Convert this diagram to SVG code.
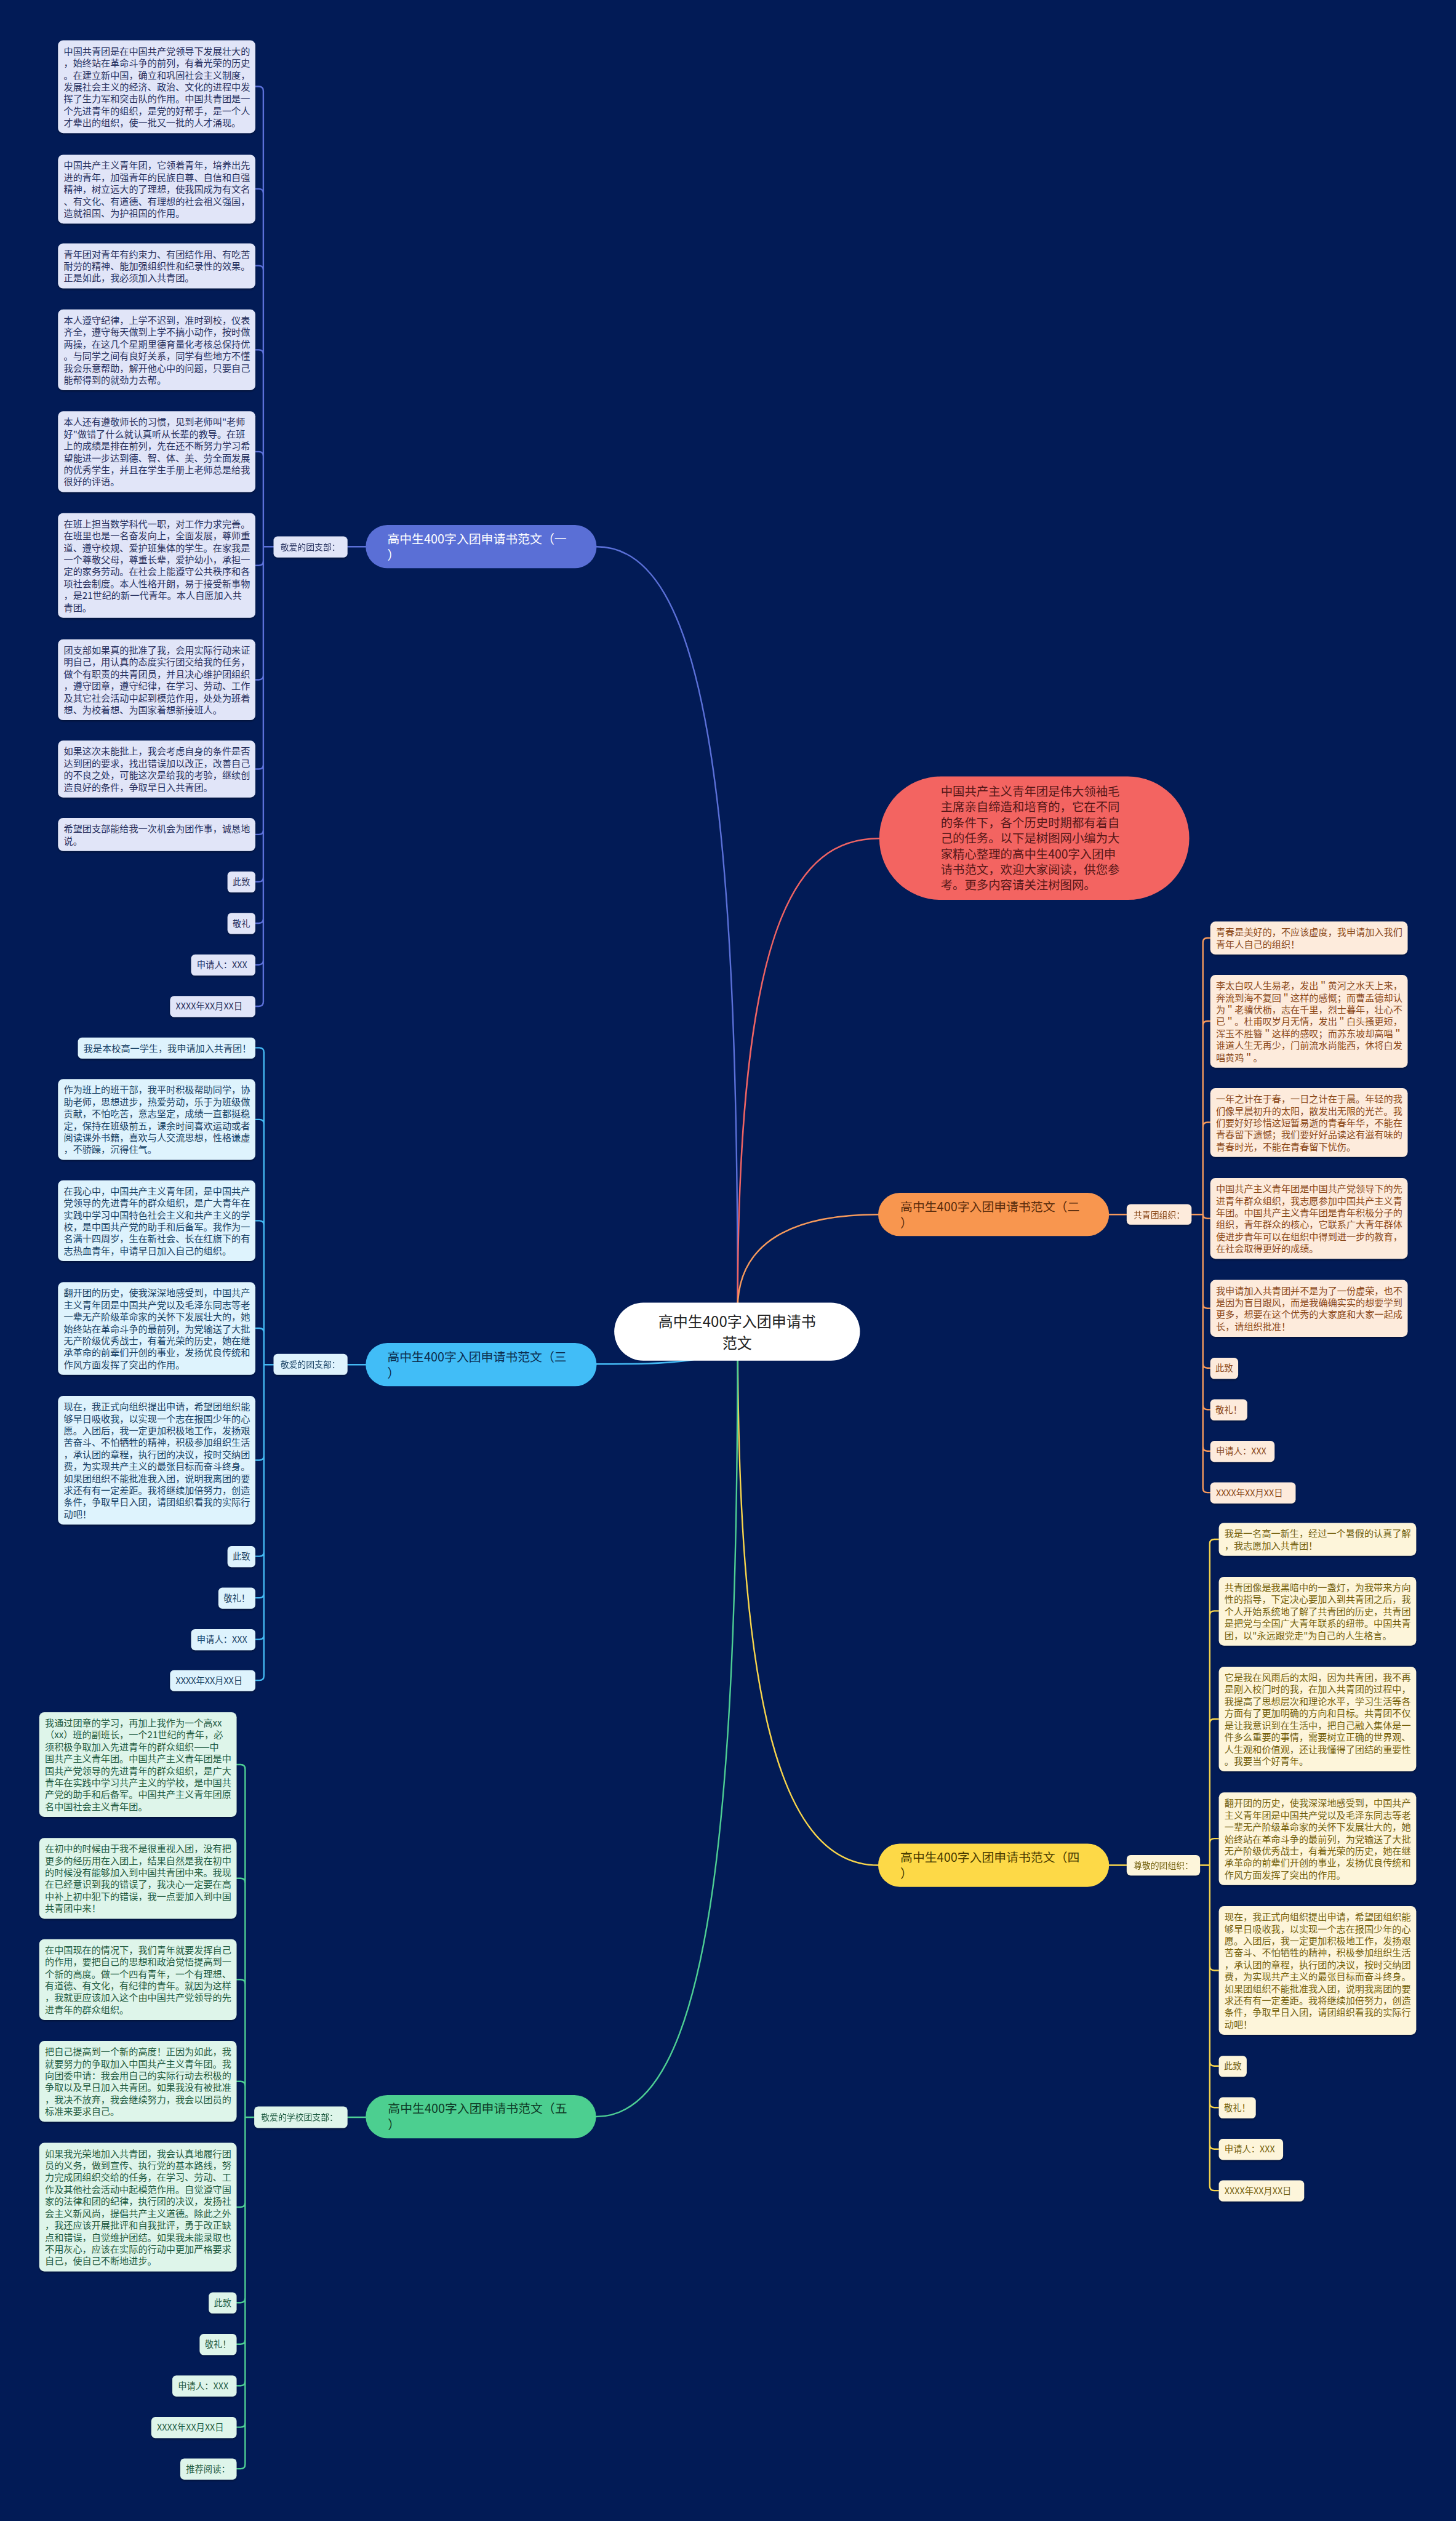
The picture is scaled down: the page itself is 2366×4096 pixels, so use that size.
<svg xmlns="http://www.w3.org/2000/svg" width="2366" height="4096" viewBox="0 0 2366 4096">
<defs>
<filter id="sh" x="-10%" y="-10%" width="120%" height="130%"><feDropShadow dx="0" dy="2" stdDeviation="1.5" flood-color="#000" flood-opacity="0.35"/></filter>
<style>
text{font-family:"Noto Sans CJK SC","Noto Sans",sans-serif}
.bx{filter:url(#sh)}
.t{font-size:16.4px}
.s{font-size:15.5px}
.lb{font-size:15px}
.nd{font-size:21.5px}
.c1 rect{fill:#e1e5f8}.c1 text{fill:#27305e}
.c2 rect{fill:#fdebdc}.c2 text{fill:#8a4718}
.c3 rect{fill:#def3fd}.c3 text{fill:#174063}
.c4 rect{fill:#fdf5da}.c4 text{fill:#73600c}
.c5 rect{fill:#def5ea}.c5 text{fill:#1f5a40}
.ln{fill:none;stroke-width:2.6;stroke-linecap:round}
</style>
</defs>
<rect width="2366" height="4096" fill="#021b56"/>
<g transform="scale(0.92422)">
<g id="connectors">
<path class="ln" stroke="#5b70d8" d="M1049,961 C1240,961 1297,1400 1297,2300"/>
<path class="ln" stroke="#f06464" d="M1297,2300 C1297,1620 1400,1474 1546,1474"/>
<path class="ln" stroke="#f79a5c" d="M1297,2300 C1297,2180 1400,2135 1544,2135"/>
<path class="ln" stroke="#44b9f3" d="M1297,2341 C1297,2398 1160,2398 1049,2398"/>
<path class="ln" stroke="#f9d64c" d="M1297,2341 C1297,2950 1360,3279 1544,3279"/>
<path class="ln" stroke="#4ecf94" d="M1297,2341 C1297,3200 1250,3721 1048,3721"/>
<path class="ln" stroke="#5b70d8" d="M643,961 H611 M481,961 H463 M463,160 V1761 M463,160 Q463,152 455,152 H449 M463,340 Q463,332 455,332 H449 M463,475 Q463,467 455,467 H449 M463,623 Q463,615 455,615 H449 M463,802 Q463,794 455,794 H449 M463,986 Q463,994 455,994 H449 M463,1187 Q463,1195 455,1195 H449 M463,1344 Q463,1352 455,1352 H449 M463,1459 Q463,1467 455,1467 H449 M463,1542 Q463,1550 455,1550 H449 M463,1615 Q463,1623 455,1623 H449 M463,1688 Q463,1696 455,1696 H449 M463,1761 Q463,1769 455,1769 H449"/>
<path class="ln" stroke="#f79a5c" d="M1950,2135 H1981 M2095,2135 H2115 M2115,1657 V2616 M2115,1657 Q2115,1649 2123,1649 H2128 M2115,1803 Q2115,1795 2123,1795 H2128 M2115,1981 Q2115,1973 2123,1973 H2128 M2115,2134 Q2115,2142 2123,2142 H2128 M2115,2292 Q2115,2300 2123,2300 H2128 M2115,2397 Q2115,2405 2123,2405 H2128 M2115,2470 Q2115,2478 2123,2478 H2128 M2115,2543 Q2115,2551 2123,2551 H2128 M2115,2616 Q2115,2624 2123,2624 H2128"/>
<path class="ln" stroke="#44b9f3" d="M643,2399 H611 M481,2399 H464 M464,1850 V2946 M464,1850 Q464,1842 456,1842 H449 M464,1976 Q464,1968 456,1968 H449 M464,2154 Q464,2146 456,2146 H449 M464,2343 Q464,2335 456,2335 H449 M464,2559 Q464,2567 456,2567 H449 M464,2728 Q464,2736 456,2736 H449 M464,2801 Q464,2809 456,2809 H449 M464,2874 Q464,2882 456,2882 H449 M464,2946 Q464,2954 456,2954 H449"/>
<path class="ln" stroke="#f9d64c" d="M1950,3279 H1981 M2110,3279 H2127 M2127,2714 V3843 M2127,2714 Q2127,2706 2135,2706 H2143 M2127,2840 Q2127,2832 2135,2832 H2143 M2127,3030 Q2127,3022 2135,3022 H2143 M2127,3240 Q2127,3232 2135,3232 H2143 M2127,3456 Q2127,3464 2135,3464 H2143 M2127,3624 Q2127,3632 2135,3632 H2143 M2127,3697 Q2127,3705 2135,3705 H2143 M2127,3770 Q2127,3778 2135,3778 H2143 M2127,3843 Q2127,3851 2135,3851 H2143"/>
<path class="ln" stroke="#4ecf94" d="M643,3722 H611 M447,3722 H431 M431,3110 V4332 M431,3110 Q431,3102 423,3102 H416 M431,3310 Q431,3302 423,3302 H416 M431,3488 Q431,3480 423,3480 H416 M431,3667 Q431,3659 423,3659 H416 M431,3872 Q431,3880 423,3880 H416 M431,4040 Q431,4048 423,4048 H416 M431,4113 Q431,4121 423,4121 H416 M431,4186 Q431,4194 423,4194 H416 M431,4259 Q431,4267 423,4267 H416 M431,4332 Q431,4340 423,4340 H416"/>
</g>

<g id="center">
<rect x="1080" y="2290" width="432" height="102" rx="51" fill="#ffffff"/>
<text x="1296" y="2333" font-size="26" fill="#222" text-anchor="middle">高中生400字入团申请书</text>
<text x="1296" y="2371" font-size="26" fill="#222" text-anchor="middle">范文</text>
</g>

<g id="intro">
<rect x="1546" y="1365" width="545" height="217" rx="108" fill="#f36461"/>
<text font-size="21" fill="#561818">
<tspan x="1654" y="1399">中国共产主义青年团是伟大领袖毛</tspan>
<tspan x="1654" y="1426.5">主席亲自缔造和培育的，它在不同</tspan>
<tspan x="1654" y="1454">的条件下，各个历史时期都有着自</tspan>
<tspan x="1654" y="1481.5">己的任务。以下是树图网小编为大</tspan>
<tspan x="1654" y="1509">家精心整理的高中生400字入团申</tspan>
<tspan x="1654" y="1536.5">请书范文，欢迎大家阅读，供您参</tspan>
<tspan x="1654" y="1564">考。更多内容请关注树图网。</tspan>
</text>
</g>

<g id="branch1">
<rect x="643" y="923" width="406" height="76" rx="38" fill="#5a6fd6"/>
<text class="nd" fill="#ffffff"><tspan x="681" y="955">高中生400字入团申请书范文（一</tspan><tspan x="681" y="983">）</tspan></text>
</g>
<g id="b1-label" class="c1 bx"><rect x="481" y="943" width="130" height="37" rx="7"/><text class="lb" x="493" y="967">敬爱的团支部：</text></g>
<g id="b1-1" class="c1"><rect class="bx" x="102" y="71" width="347" height="163" rx="9"/><text class="t">
<tspan x="112" y="96">中国共青团是在中国共产党领导下发展壮大的</tspan>
<tspan x="112" y="117">，始终站在革命斗争的前列，有着光荣的历史</tspan>
<tspan x="112" y="138">。在建立新中国，确立和巩固社会主义制度，</tspan>
<tspan x="112" y="159">发展社会主义的经济、政治、文化的进程中发</tspan>
<tspan x="112" y="180">挥了生力军和突击队的作用。中国共青团是一</tspan>
<tspan x="112" y="201">个先进青年的组织，是党的好帮手，是一个人</tspan>
<tspan x="112" y="222">才辈出的组织，使一批又一批的人才涌现。</tspan></text></g>
<g id="b1-2" class="c1"><rect class="bx" x="102" y="272" width="347" height="121" rx="9"/><text class="t">
<tspan x="112" y="297">中国共产主义青年团，它领着青年，培养出先</tspan>
<tspan x="112" y="318">进的青年，加强青年的民族自尊、自信和自强</tspan>
<tspan x="112" y="339">精神，树立远大的了理想，使我国成为有文名</tspan>
<tspan x="112" y="360">、有文化、有道德、有理想的社会祖义强国，</tspan>
<tspan x="112" y="381">造就祖国、为护祖国的作用。</tspan></text></g>
<g id="b1-3" class="c1"><rect class="bx" x="102" y="428" width="347" height="79" rx="9"/><text class="t">
<tspan x="112" y="453">青年团对青年有约束力、有团结作用、有吃苦</tspan>
<tspan x="112" y="474">耐劳的精神、能加强组织性和纪录性的效果。</tspan>
<tspan x="112" y="495">正是如此，我必须加入共青团。</tspan></text></g>
<g id="b1-4" class="c1"><rect class="bx" x="102" y="544" width="347" height="142" rx="9"/><text class="t">
<tspan x="112" y="569">本人遵守纪律，上学不迟到，准时到校，仪表</tspan>
<tspan x="112" y="590">齐全，遵守每天做到上学不搞小动作，按时做</tspan>
<tspan x="112" y="611">两操，在这几个星期里德育量化考核总保持优</tspan>
<tspan x="112" y="632">。与同学之间有良好关系，同学有些地方不懂</tspan>
<tspan x="112" y="653">我会乐意帮助，解开他心中的问题，只要自己</tspan>
<tspan x="112" y="674">能帮得到的就劲力去帮。</tspan></text></g>
<g id="b1-5" class="c1"><rect class="bx" x="102" y="723" width="347" height="142" rx="9"/><text class="t">
<tspan x="112" y="748">本人还有遵敬师长的习惯，见到老师叫"老师</tspan>
<tspan x="112" y="769">好"做错了什么就认真听从长辈的教导。在班</tspan>
<tspan x="112" y="790">上的成绩是排在前列，先在还不断努力学习希</tspan>
<tspan x="112" y="811">望能进一步达到德、智、体、美、劳全面发展</tspan>
<tspan x="112" y="832">的优秀学生，并且在学生手册上老师总是给我</tspan>
<tspan x="112" y="853">很好的评语。</tspan></text></g>
<g id="b1-6" class="c1"><rect class="bx" x="102" y="902" width="347" height="184" rx="9"/><text class="t">
<tspan x="112" y="927">在班上担当数学科代一职，对工作力求完善。</tspan>
<tspan x="112" y="948">在班里也是一名奋发向上，全面发展，尊师重</tspan>
<tspan x="112" y="969">道、遵守校规、爱护班集体的学生。在家我是</tspan>
<tspan x="112" y="990">一个尊敬父母，尊重长辈，爱护幼小，承担一</tspan>
<tspan x="112" y="1011">定的家务劳动。在社会上能遵守公共秩序和各</tspan>
<tspan x="112" y="1032">项社会制度。本人性格开朗，易于接受新事物</tspan>
<tspan x="112" y="1053">，是21世纪的新一代青年。本人自愿加入共</tspan>
<tspan x="112" y="1074">青团。</tspan></text></g>
<g id="b1-7" class="c1"><rect class="bx" x="102" y="1124" width="347" height="142" rx="9"/><text class="t">
<tspan x="112" y="1149">团支部如果真的批准了我，会用实际行动来证</tspan>
<tspan x="112" y="1170">明自己，用认真的态度实行团交给我的任务，</tspan>
<tspan x="112" y="1191">做个有职责的共青团员，并且决心维护团组织</tspan>
<tspan x="112" y="1212">，遵守团章，遵守纪律，在学习、劳动、工作</tspan>
<tspan x="112" y="1233">及其它社会活动中起到模范作用，处处为班着</tspan>
<tspan x="112" y="1254">想、为校着想、为国家着想新接班人。</tspan></text></g>
<g id="b1-8" class="c1"><rect class="bx" x="102" y="1302" width="347" height="100" rx="9"/><text class="t">
<tspan x="112" y="1327">如果这次未能批上，我会考虑自身的条件是否</tspan>
<tspan x="112" y="1348">达到团的要求，找出错误加以改正，改善自己</tspan>
<tspan x="112" y="1369">的不良之处，可能这次是给我的考验，继续创</tspan>
<tspan x="112" y="1390">造良好的条件，争取早日入共青团。</tspan></text></g>
<g id="b1-9" class="c1"><rect class="bx" x="102" y="1438" width="347" height="58" rx="9"/><text class="t">
<tspan x="112" y="1463">希望团支部能给我一次机会为团作事，诚恳地</tspan>
<tspan x="112" y="1484">说。</tspan></text></g>
<g id="b1-10" class="c1"><rect class="bx" x="400" y="1532" width="49" height="37" rx="7"/><text class="s" x="409" y="1556">此致</text></g>
<g id="b1-11" class="c1"><rect class="bx" x="400" y="1605" width="49" height="37" rx="7"/><text class="s" x="409" y="1629">敬礼</text></g>
<g id="b1-12" class="c1"><rect class="bx" x="336" y="1678" width="113" height="37" rx="7"/><text class="s" x="346" y="1702">申请人：XXX</text></g>
<g id="b1-13" class="c1"><rect class="bx" x="299" y="1751" width="150" height="37" rx="7"/><text class="s" x="309" y="1775">XXXX年XX月XX日</text></g>

<g id="branch2">
<rect x="1544" y="2097" width="406" height="76" rx="38" fill="#f8964f"/>
<text class="nd" fill="#5a2c0c"><tspan x="1583" y="2129">高中生400字入团申请书范文（二</tspan><tspan x="1583" y="2157">）</tspan></text>
</g>
<g id="b2-label" class="c2 bx"><rect x="1981" y="2117" width="114" height="36" rx="7"/><text class="lb" x="1993" y="2141">共青团组织：</text></g>
<g id="b2-1" class="c2"><rect class="bx" x="2128" y="1620" width="347" height="58" rx="9"/><text class="t">
<tspan x="2138" y="1645">青春是美好的，不应该虚度，我申请加入我们</tspan>
<tspan x="2138" y="1666">青年人自己的组织！</tspan></text></g>
<g id="b2-2" class="c2"><rect class="bx" x="2128" y="1714" width="347" height="163" rx="9"/><text class="t">
<tspan x="2138" y="1739">李太白叹人生易老，发出＂黄河之水天上来，</tspan>
<tspan x="2138" y="1760">奔流到海不复回＂这样的感慨；而曹孟德却认</tspan>
<tspan x="2138" y="1781">为＂老骥伏枥，志在千里，烈士暮年，壮心不</tspan>
<tspan x="2138" y="1802">已＂。杜甫叹岁月无情，发出＂白头搔更短，</tspan>
<tspan x="2138" y="1823">浑玉不胜簪＂这样的感叹；而苏东坡却高唱＂</tspan>
<tspan x="2138" y="1844">谁道人生无再少，门前流水尚能西，休将白发</tspan>
<tspan x="2138" y="1865">唱黄鸡＂。</tspan></text></g>
<g id="b2-3" class="c2"><rect class="bx" x="2128" y="1913" width="347" height="121" rx="9"/><text class="t">
<tspan x="2138" y="1938">一年之计在于春，一日之计在于晨。年轻的我</tspan>
<tspan x="2138" y="1959">们像早晨初升的太阳，散发出无限的光芒。我</tspan>
<tspan x="2138" y="1980">们要好好珍惜这短暂易逝的青春年华，不能在</tspan>
<tspan x="2138" y="2001">青春留下遗憾；我们要好好品读这有滋有味的</tspan>
<tspan x="2138" y="2022">青春时光，不能在青春留下忧伤。</tspan></text></g>
<g id="b2-4" class="c2"><rect class="bx" x="2128" y="2071" width="347" height="142" rx="9"/><text class="t">
<tspan x="2138" y="2096">中国共产主义青年团是中国共产党领导下的先</tspan>
<tspan x="2138" y="2117">进青年群众组织，我志愿参加中国共产主义青</tspan>
<tspan x="2138" y="2138">年团。中国共产主义青年团是青年积极分子的</tspan>
<tspan x="2138" y="2159">组织，青年群众的核心，它联系广大青年群体</tspan>
<tspan x="2138" y="2180">使进步青年可以在组织中得到进一步的教育，</tspan>
<tspan x="2138" y="2201">在社会取得更好的成绩。</tspan></text></g>
<g id="b2-5" class="c2"><rect class="bx" x="2128" y="2250" width="347" height="100" rx="9"/><text class="t">
<tspan x="2138" y="2275">我申请加入共青团并不是为了一份虚荣，也不</tspan>
<tspan x="2138" y="2296">是因为盲目跟风，而是我确确实实的想要学到</tspan>
<tspan x="2138" y="2317">更多，想要在这个优秀的大家庭和大家一起成</tspan>
<tspan x="2138" y="2338">长，请组织批准！</tspan></text></g>
<g id="b2-6" class="c2"><rect class="bx" x="2128" y="2387" width="49" height="37" rx="7"/><text class="s" x="2137" y="2411">此致</text></g>
<g id="b2-7" class="c2"><rect class="bx" x="2128" y="2460" width="65" height="37" rx="7"/><text class="s" x="2137" y="2484">敬礼！</text></g>
<g id="b2-8" class="c2"><rect class="bx" x="2128" y="2533" width="113" height="37" rx="7"/><text class="s" x="2138" y="2557">申请人：XXX</text></g>
<g id="b2-9" class="c2"><rect class="bx" x="2128" y="2606" width="150" height="37" rx="7"/><text class="s" x="2138" y="2630">XXXX年XX月XX日</text></g>

<g id="branch3">
<rect x="643" y="2361" width="406" height="76" rx="38" fill="#41bdf7"/>
<text class="nd" fill="#0c2d4e"><tspan x="681" y="2393">高中生400字入团申请书范文（三</tspan><tspan x="681" y="2421">）</tspan></text>
</g>
<g id="b3-label" class="c3 bx"><rect x="481" y="2380" width="130" height="37" rx="7"/><text class="lb" x="493" y="2404">敬爱的团支部：</text></g>
<g id="b3-1" class="c3"><rect class="bx" x="137" y="1824" width="312" height="37" rx="7"/><text class="t" x="147" y="1849">我是本校高一学生，我申请加入共青团！</text></g>
<g id="b3-2" class="c3"><rect class="bx" x="102" y="1897" width="347" height="142" rx="9"/><text class="t">
<tspan x="112" y="1922">作为班上的班干部，我平时积极帮助同学，协</tspan>
<tspan x="112" y="1943">助老师，思想进步，热爱劳动，乐于为班级做</tspan>
<tspan x="112" y="1964">贡献，不怕吃苦，意志坚定，成绩一直都挺稳</tspan>
<tspan x="112" y="1985">定，保持在班级前五，课余时间喜欢运动或者</tspan>
<tspan x="112" y="2006">阅读课外书籍，喜欢与人交流思想，性格谦虚</tspan>
<tspan x="112" y="2027">，不骄躁，沉得住气。</tspan></text></g>
<g id="b3-3" class="c3"><rect class="bx" x="102" y="2075" width="347" height="142" rx="9"/><text class="t">
<tspan x="112" y="2100">在我心中，中国共产主义青年团，是中国共产</tspan>
<tspan x="112" y="2121">党领导的先进青年的群众组织，是广大青年在</tspan>
<tspan x="112" y="2142">实践中学习中国特色社会主义和共产主义的学</tspan>
<tspan x="112" y="2163">校，是中国共产党的助手和后备军。我作为一</tspan>
<tspan x="112" y="2184">名满十四周岁，生在新社会、长在红旗下的有</tspan>
<tspan x="112" y="2205">志热血青年，申请早日加入自己的组织。</tspan></text></g>
<g id="b3-4" class="c3"><rect class="bx" x="102" y="2254" width="347" height="163" rx="9"/><text class="t">
<tspan x="112" y="2279">翻开团的历史，使我深深地感受到，中国共产</tspan>
<tspan x="112" y="2300">主义青年团是中国共产党以及毛泽东同志等老</tspan>
<tspan x="112" y="2321">一辈无产阶级革命家的关怀下发展壮大的，她</tspan>
<tspan x="112" y="2342">始终站在革命斗争的最前列，为党输送了大批</tspan>
<tspan x="112" y="2363">无产阶级优秀战士，有着光荣的历史，她在继</tspan>
<tspan x="112" y="2384">承革命的前辈们开创的事业，发扬优良传统和</tspan>
<tspan x="112" y="2405">作风方面发挥了突出的作用。</tspan></text></g>
<g id="b3-5" class="c3"><rect class="bx" x="102" y="2454" width="347" height="226" rx="9"/><text class="t">
<tspan x="112" y="2479">现在，我正式向组织提出申请，希望团组织能</tspan>
<tspan x="112" y="2500">够早日吸收我，以实现一个志在报国少年的心</tspan>
<tspan x="112" y="2521">愿。入团后，我一定更加积极地工作，发扬艰</tspan>
<tspan x="112" y="2542">苦奋斗、不怕牺牲的精神，积极参加组织生活</tspan>
<tspan x="112" y="2563">，承认团的章程，执行团的决议，按时交纳团</tspan>
<tspan x="112" y="2584">费，为实现共产主义的最张目标而奋斗终身。</tspan>
<tspan x="112" y="2605">如果团组织不能批准我入团，说明我离团的要</tspan>
<tspan x="112" y="2626">求还有有一定差距。我将继续加倍努力，创造</tspan>
<tspan x="112" y="2647">条件，争取早日入团，请团组织看我的实际行</tspan>
<tspan x="112" y="2668">动吧！</tspan></text></g>
<g id="b3-6" class="c3"><rect class="bx" x="400" y="2718" width="49" height="37" rx="7"/><text class="s" x="409" y="2742">此致</text></g>
<g id="b3-7" class="c3"><rect class="bx" x="384" y="2791" width="65" height="37" rx="7"/><text class="s" x="393" y="2815">敬礼！</text></g>
<g id="b3-8" class="c3"><rect class="bx" x="336" y="2864" width="113" height="37" rx="7"/><text class="s" x="346" y="2888">申请人：XXX</text></g>
<g id="b3-9" class="c3"><rect class="bx" x="299" y="2936" width="150" height="37" rx="7"/><text class="s" x="309" y="2960">XXXX年XX月XX日</text></g>

<g id="branch4">
<rect x="1544" y="3241" width="406" height="76" rx="38" fill="#fdd947"/>
<text class="nd" fill="#4a3c00"><tspan x="1583" y="3273">高中生400字入团申请书范文（四</tspan><tspan x="1583" y="3301">）</tspan></text>
</g>
<g id="b4-label" class="c4 bx"><rect x="1981" y="3261" width="129" height="36" rx="7"/><text class="lb" x="1993" y="3285">尊敬的团组织：</text></g>
<g id="b4-1" class="c4"><rect class="bx" x="2143" y="2677" width="347" height="58" rx="9"/><text class="t">
<tspan x="2153" y="2702">我是一名高一新生，经过一个暑假的认真了解</tspan>
<tspan x="2153" y="2723">，我志愿加入共青团！</tspan></text></g>
<g id="b4-2" class="c4"><rect class="bx" x="2143" y="2772" width="347" height="121" rx="9"/><text class="t">
<tspan x="2153" y="2797">共青团像是我黑暗中的一盏灯，为我带来方向</tspan>
<tspan x="2153" y="2818">性的指导，下定决心要加入到共青团之后，我</tspan>
<tspan x="2153" y="2839">个人开始系统地了解了共青团的历史，共青团</tspan>
<tspan x="2153" y="2860">是把党与全国广大青年联系的纽带。中国共青</tspan>
<tspan x="2153" y="2881">团，以"永远跟党走"为自己的人生格言。</tspan></text></g>
<g id="b4-3" class="c4"><rect class="bx" x="2143" y="2930" width="347" height="184" rx="9"/><text class="t">
<tspan x="2153" y="2955">它是我在风雨后的太阳，因为共青团，我不再</tspan>
<tspan x="2153" y="2976">是刚入校门时的我，在加入共青团的过程中，</tspan>
<tspan x="2153" y="2997">我提高了思想层次和理论水平，学习生活等各</tspan>
<tspan x="2153" y="3018">方面有了更加明确的方向和目标。共青团不仅</tspan>
<tspan x="2153" y="3039">是让我意识到在生活中，把自己融入集体是一</tspan>
<tspan x="2153" y="3060">件多么重要的事情，需要树立正确的世界观、</tspan>
<tspan x="2153" y="3081">人生观和价值观，还让我懂得了团结的重要性</tspan>
<tspan x="2153" y="3102">。我要当个好青年。</tspan></text></g>
<g id="b4-4" class="c4"><rect class="bx" x="2143" y="3151" width="347" height="163" rx="9"/><text class="t">
<tspan x="2153" y="3176">翻开团的历史，使我深深地感受到，中国共产</tspan>
<tspan x="2153" y="3197">主义青年团是中国共产党以及毛泽东同志等老</tspan>
<tspan x="2153" y="3218">一辈无产阶级革命家的关怀下发展壮大的，她</tspan>
<tspan x="2153" y="3239">始终站在革命斗争的最前列，为党输送了大批</tspan>
<tspan x="2153" y="3260">无产阶级优秀战士，有着光荣的历史，她在继</tspan>
<tspan x="2153" y="3281">承革命的前辈们开创的事业，发扬优良传统和</tspan>
<tspan x="2153" y="3302">作风方面发挥了突出的作用。</tspan></text></g>
<g id="b4-5" class="c4"><rect class="bx" x="2143" y="3351" width="347" height="226" rx="9"/><text class="t">
<tspan x="2153" y="3376">现在，我正式向组织提出申请，希望团组织能</tspan>
<tspan x="2153" y="3397">够早日吸收我，以实现一个志在报国少年的心</tspan>
<tspan x="2153" y="3418">愿。入团后，我一定更加积极地工作，发扬艰</tspan>
<tspan x="2153" y="3439">苦奋斗、不怕牺牲的精神，积极参加组织生活</tspan>
<tspan x="2153" y="3460">，承认团的章程，执行团的决议，按时交纳团</tspan>
<tspan x="2153" y="3481">费，为实现共产主义的最张目标而奋斗终身。</tspan>
<tspan x="2153" y="3502">如果团组织不能批准我入团，说明我离团的要</tspan>
<tspan x="2153" y="3523">求还有有一定差距。我将继续加倍努力，创造</tspan>
<tspan x="2153" y="3544">条件，争取早日入团，请团组织看我的实际行</tspan>
<tspan x="2153" y="3565">动吧！</tspan></text></g>
<g id="b4-6" class="c4"><rect class="bx" x="2143" y="3614" width="49" height="37" rx="7"/><text class="s" x="2152" y="3638">此致</text></g>
<g id="b4-7" class="c4"><rect class="bx" x="2143" y="3687" width="65" height="37" rx="7"/><text class="s" x="2152" y="3711">敬礼！</text></g>
<g id="b4-8" class="c4"><rect class="bx" x="2143" y="3760" width="113" height="37" rx="7"/><text class="s" x="2153" y="3784">申请人：XXX</text></g>
<g id="b4-9" class="c4"><rect class="bx" x="2143" y="3833" width="150" height="37" rx="7"/><text class="s" x="2153" y="3857">XXXX年XX月XX日</text></g>

<g id="branch5">
<rect x="643" y="3683" width="405" height="76" rx="38" fill="#4ccf90"/>
<text class="nd" fill="#0e3b27"><tspan x="682" y="3715">高中生400字入团申请书范文（五</tspan><tspan x="682" y="3743">）</tspan></text>
</g>
<g id="b5-label" class="c5 bx"><rect x="447" y="3703" width="164" height="38" rx="7"/><text class="lb" x="459" y="3728">敬爱的学校团支部：</text></g>
<g id="b5-1" class="c5"><rect class="bx" x="69" y="3010" width="347" height="184" rx="9"/><text class="t">
<tspan x="79" y="3035">我通过团章的学习，再加上我作为一个高xx</tspan>
<tspan x="79" y="3056">（xx）班的副班长，一个21世纪的青年，必</tspan>
<tspan x="79" y="3077">须积极争取加入先进青年的群众组织——中</tspan>
<tspan x="79" y="3098">国共产主义青年团。中国共产主义青年团是中</tspan>
<tspan x="79" y="3119">国共产党领导的先进青年的群众组织，是广大</tspan>
<tspan x="79" y="3140">青年在实践中学习共产主义的学校，是中国共</tspan>
<tspan x="79" y="3161">产党的助手和后备军。中国共产主义青年团原</tspan>
<tspan x="79" y="3182">名中国社会主义青年团。</tspan></text></g>
<g id="b5-2" class="c5"><rect class="bx" x="69" y="3231" width="347" height="142" rx="9"/><text class="t">
<tspan x="79" y="3256">在初中的时候由于我不是很重视入团，没有把</tspan>
<tspan x="79" y="3277">更多的经历用在入团上，结果自然是我在初中</tspan>
<tspan x="79" y="3298">的时候没有能够加入到中国共青团中来。我现</tspan>
<tspan x="79" y="3319">在已经意识到我的错误了，我决心一定要在高</tspan>
<tspan x="79" y="3340">中补上初中犯下的错误，我一点要加入到中国</tspan>
<tspan x="79" y="3361">共青团中来！</tspan></text></g>
<g id="b5-3" class="c5"><rect class="bx" x="69" y="3409" width="347" height="142" rx="9"/><text class="t">
<tspan x="79" y="3434">在中国现在的情况下，我们青年就要发挥自己</tspan>
<tspan x="79" y="3455">的作用，要把自己的思想和政治觉悟提高到一</tspan>
<tspan x="79" y="3476">个新的高度。做一个四有青年，一个有理想、</tspan>
<tspan x="79" y="3497">有道德、有文化，有纪律的青年。就因为这样</tspan>
<tspan x="79" y="3518">，我就更应该加入这个由中国共产党领导的先</tspan>
<tspan x="79" y="3539">进青年的群众组织。</tspan></text></g>
<g id="b5-4" class="c5"><rect class="bx" x="69" y="3588" width="347" height="142" rx="9"/><text class="t">
<tspan x="79" y="3613">把自己提高到一个新的高度！正因为如此，我</tspan>
<tspan x="79" y="3634">就要努力的争取加入中国共产主义青年团。我</tspan>
<tspan x="79" y="3655">向团委申请：我会用自己的实际行动去积极的</tspan>
<tspan x="79" y="3676">争取以及早日加入共青团。如果我没有被批准</tspan>
<tspan x="79" y="3697">，我决不放弃，我会继续努力，我会以团员的</tspan>
<tspan x="79" y="3718">标准来要求自己。</tspan></text></g>
<g id="b5-5" class="c5"><rect class="bx" x="69" y="3767" width="347" height="226" rx="9"/><text class="t">
<tspan x="79" y="3792">如果我光荣地加入共青团，我会认真地履行团</tspan>
<tspan x="79" y="3813">员的义务，做到宣传、执行党的基本路线，努</tspan>
<tspan x="79" y="3834">力完成团组织交给的任务，在学习、劳动、工</tspan>
<tspan x="79" y="3855">作及其他社会活动中起模范作用。自觉遵守国</tspan>
<tspan x="79" y="3876">家的法律和团的纪律，执行团的决议，发扬社</tspan>
<tspan x="79" y="3897">会主义新风尚，提倡共产主义道德。除此之外</tspan>
<tspan x="79" y="3918">，我还应该开展批评和自我批评，勇于改正缺</tspan>
<tspan x="79" y="3939">点和错误，自觉维护团结。如果我未能录取也</tspan>
<tspan x="79" y="3960">不用灰心，应该在实际的行动中更加严格要求</tspan>
<tspan x="79" y="3981">自己，使自己不断地进步。</tspan></text></g>
<g id="b5-6" class="c5"><rect class="bx" x="367" y="4030" width="49" height="37" rx="7"/><text class="s" x="376" y="4054">此致</text></g>
<g id="b5-7" class="c5"><rect class="bx" x="351" y="4103" width="65" height="37" rx="7"/><text class="s" x="360" y="4127">敬礼！</text></g>
<g id="b5-8" class="c5"><rect class="bx" x="303" y="4176" width="113" height="37" rx="7"/><text class="s" x="313" y="4200">申请人：XXX</text></g>
<g id="b5-9" class="c5"><rect class="bx" x="266" y="4249" width="150" height="37" rx="7"/><text class="s" x="276" y="4273">XXXX年XX月XX日</text></g>
<g id="b5-10" class="c5"><rect class="bx" x="317" y="4322" width="99" height="37" rx="7"/><text class="s" x="327" y="4346">推荐阅读：</text></g>
</g>
</svg>
